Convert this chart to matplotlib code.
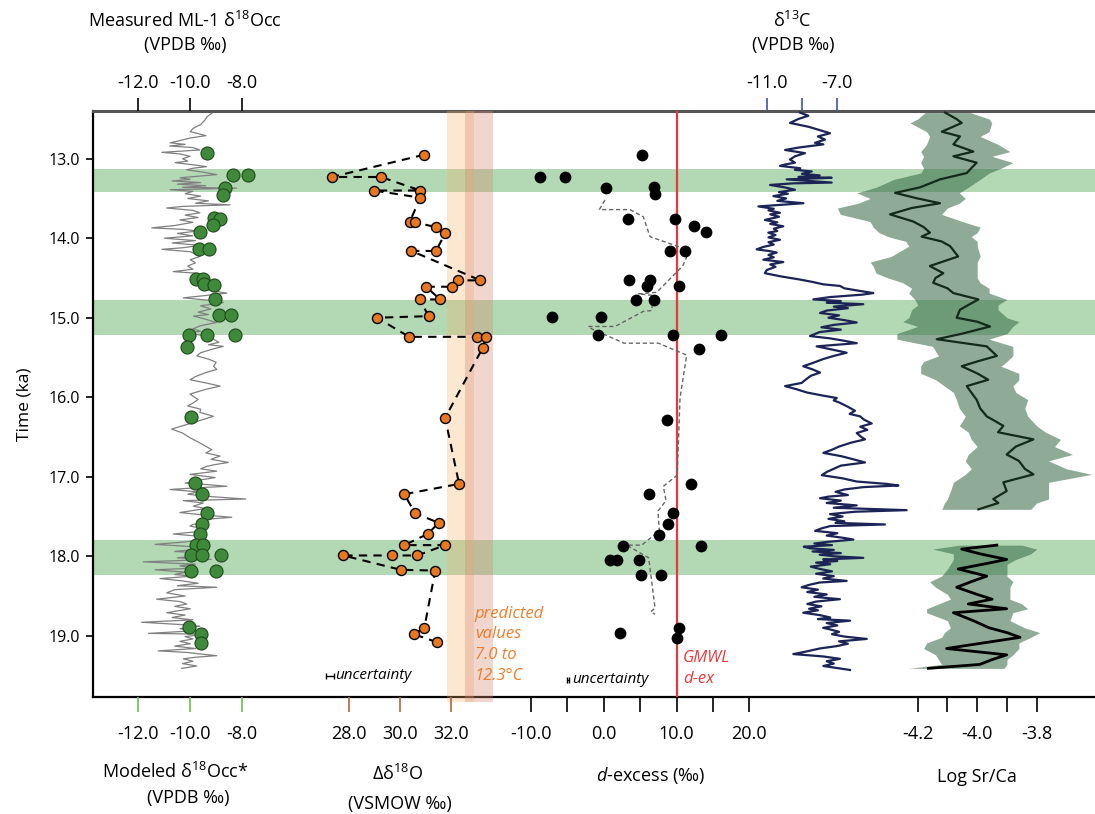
"""
Multi-proxy stack vs. time: measured/modeled d18O, Δδ18O, d-excess,
δ13C and Log Sr/Ca sharing one inverted time axis.
"""
import matplotlib
matplotlib.use("Agg")
import matplotlib.pyplot as plt

plt.rcParams["font.family"] = ["Open Sans", "DejaVu Sans"]
plt.rcParams["mathtext.fontset"] = "custom"
plt.rcParams["mathtext.rm"] = "Open Sans"
plt.rcParams["mathtext.it"] = "Open Sans:italic"
plt.rcParams["mathtext.bf"] = "Open Sans:bold"

# ---------------------------------------------------------------- data
# highlighted intervals (ka)
bands = [(13.13, 13.42), (14.78, 15.22), (17.80, 18.24)]

# measured ML-1 d18Occ (VPDB)
meas_age = [12.93, 13.20, 13.20, 13.37, 13.46, 13.75, 13.76, 13.84, 13.92,
            14.14, 14.14, 14.51, 14.51, 14.58, 14.59, 14.76, 14.97, 14.97,
            15.22, 15.22, 15.22, 15.37, 16.25, 17.08, 17.22, 17.46, 17.59,
            17.72, 17.86, 17.86, 17.99, 17.99, 17.99, 18.18, 18.18, 18.89,
            18.98, 19.09]
meas_d18o = [-9.37, -8.36, -7.78, -8.67, -8.75, -9.09, -8.85, -9.14, -9.63,
             -9.66, -9.27, -9.78, -9.50, -9.46, -9.08, -9.03, -8.88, -8.43,
             -10.06, -9.36, -8.27, -10.12, -9.97, -9.82, -9.56, -9.34, -9.55,
             -9.64, -9.78, -9.50, -9.98, -9.55, -8.83, -9.97, -9.01, -10.04,
             -9.60, -9.59]

# modeled d18Occ* (VPDB)
mod_age = [12.43, 12.47, 12.52, 12.57, 12.62, 12.66, 12.68, 12.71, 12.74,
           12.78, 12.80, 12.82, 12.84, 12.86, 12.89, 12.91, 12.92, 12.94,
           12.97, 13.00, 13.03, 13.05, 13.08, 13.10, 13.12, 13.14, 13.17,
           13.20, 13.22, 13.24, 13.26, 13.28, 13.30, 13.32, 13.34, 13.36,
           13.37, 13.39, 13.41, 13.44, 13.47, 13.50, 13.53, 13.56, 13.58,
           13.60, 13.62, 13.65, 13.68, 13.71, 13.74, 13.77, 13.80, 13.84,
           13.87, 13.89, 13.91, 13.94, 13.97, 14.00, 14.03, 14.06, 14.09,
           14.12, 14.14, 14.17, 14.20, 14.23, 14.27, 14.31, 14.35, 14.39,
           14.42, 14.44, 14.48, 14.52, 14.56, 14.60, 14.64, 14.67, 14.69,
           14.72, 14.75, 14.78, 14.81, 14.85, 14.89, 14.93, 14.96, 14.98,
           15.01, 15.04, 15.06, 15.10, 15.14, 15.17, 15.19, 15.23, 15.27,
           15.31, 15.34, 15.36, 15.40, 15.44, 15.48, 15.52, 15.56, 15.61,
           15.65, 15.69, 15.74, 15.78, 15.82, 15.86, 15.90, 15.96, 16.03,
           16.07, 16.11, 16.15, 16.19, 16.24, 16.32, 16.40, 16.45, 16.51,
           16.58, 16.66, 16.70, 16.74, 16.78, 16.82, 16.85, 16.87, 16.90,
           16.93, 16.97, 17.01, 17.04, 17.08, 17.10, 17.12, 17.14, 17.16,
           17.19, 17.22, 17.25, 17.28, 17.30, 17.33, 17.37, 17.40, 17.43,
           17.45, 17.48, 17.51, 17.54, 17.57, 17.60, 17.62, 17.66, 17.69,
           17.72, 17.75, 17.79, 17.82, 17.85, 17.88, 17.91, 17.94, 17.96,
           17.99, 18.02, 18.04, 18.07, 18.10, 18.12, 18.15, 18.17, 18.20,
           18.23, 18.25, 18.28, 18.31, 18.34, 18.37, 18.39, 18.42, 18.46,
           18.50, 18.54, 18.57, 18.60, 18.63, 18.66, 18.71, 18.74, 18.77,
           18.80, 18.83, 18.86, 18.88, 18.91, 18.94, 18.97, 18.98, 19.01,
           19.04, 19.07, 19.10, 19.13, 19.16, 19.19, 19.21, 19.23, 19.25,
           19.27, 19.29, 19.32, 19.35, 19.38, 19.41]
mod_d18o = [-9.17, -9.35, -9.45, -9.60, -9.90, -10.00, -9.75, -9.40, -10.01,
            -10.50, -10.78, -10.20, -10.80, -9.90, -9.63, -10.60, -11.10, -10.40,
            -10.01, -10.30, -10.10, -10.59, -9.80, -9.37, -9.90, -10.14, -9.50,
            -8.98, -9.70, -10.40, -10.01, -10.70, -9.60, -10.50, -9.40, -10.30,
            -8.21, -10.78, -9.90, -10.20, -9.60, -10.10, -9.30, -9.80, -8.47,
            -10.30, -10.91, -9.90, -9.63, -10.20, -9.70, -10.40, -9.90, -10.60,
            -11.49, -10.20, -9.75, -10.50, -9.90, -11.00, -9.80, -10.70, -9.60,
            -10.30, -11.10, -10.00, -9.80, -9.63, -10.00, -9.80, -10.10, -9.90,
            -10.66, -9.75, -9.90, -10.01, -9.60, -9.30, -9.50, -9.00, -8.59,
            -9.40, -10.27, -9.30, -8.73, -9.60, -9.20, -9.70, -9.30, -9.88,
            -9.50, -9.20, -8.98, -9.60, -9.90, -9.60, -10.14, -9.40, -9.10,
            -8.90, -9.30, -8.73, -9.20, -9.60, -9.75, -9.30, -9.00, -9.10,
            -8.98, -9.40, -9.80, -10.01, -9.40, -8.85, -9.40, -10.01, -9.70,
            -9.88, -10.10, -9.60, -9.63, -9.11, -9.90, -10.72, -10.30, -10.01,
            -9.60, -9.17, -9.40, -8.85, -9.20, -8.53, -9.10, -9.37, -9.60,
            -8.98, -10.01, -9.04, -9.60, -10.20, -9.30, -8.59, -9.80, -10.78,
            -9.70, -10.10, -9.20, -7.86, -10.27, -9.50, -9.88, -9.40, -10.00,
            -10.40, -9.50, -8.40, -9.60, -9.30, -9.90, -10.01, -9.40, -9.70,
            -10.66, -9.60, -9.50, -10.20, -11.36, -9.90, -9.75, -10.60, -9.40,
            -9.63, -10.50, -9.20, -11.81, -9.80, -10.40, -9.90, -11.36, -10.20,
            -10.60, -9.90, -11.17, -10.30, -9.70, -10.50, -8.98, -10.60, -10.91,
            -10.20, -11.30, -10.40, -10.14, -10.60, -10.00, -10.91, -10.20, -10.70,
            -9.90, -11.88, -10.30, -9.63, -10.40, -10.00, -11.62, -9.37, -10.20,
            -9.90, -10.40, -10.00, -10.60, -9.80, -11.24, -10.10, -9.60, -8.98,
            -9.80, -10.27, -9.90, -10.30, -9.75, -10.33]

# Δδ18O (VSMOW), in sample (connection) order
dd_age = [12.95, 13.23, 13.23, 13.40, 13.40, 13.49, 13.79, 13.80, 13.86,
          13.94, 14.16, 14.16, 14.53, 14.53, 14.61, 14.61, 14.77, 14.77,
          14.98, 15.00, 15.24, 15.24, 15.24, 15.38, 16.26, 17.09, 17.22,
          17.46, 17.58, 17.72, 17.86, 17.86, 17.99, 17.99, 17.99, 18.17,
          18.18, 18.90, 18.98, 19.08]
dd_val = [30.95, 27.31, 29.25, 30.80, 28.97, 30.80, 30.39, 30.59, 31.41,
          31.78, 31.42, 30.45, 33.17, 32.29, 32.06, 31.03, 31.58, 30.78,
          31.13, 29.09, 30.36, 33.05, 33.38, 33.26, 31.78, 32.33, 30.17,
          30.60, 31.53, 31.09, 30.17, 31.78, 30.68, 29.67, 27.76, 30.03,
          31.39, 30.96, 30.55, 31.45]
pred_low = (31.85, 32.93)    # 7.0 °C-ish envelope
pred_high = (32.56, 33.66)   # 12.3 °C-ish envelope

# d-excess (‰)
dex_age = [12.95, 13.23, 13.23, 13.37, 13.36, 13.45, 13.76, 13.76, 13.85,
           13.92, 14.16, 14.16, 14.53, 14.53, 14.60, 14.60, 14.78, 14.78,
           14.99, 14.99, 15.22, 15.22, 15.22, 15.39, 16.29, 17.09, 17.22,
           17.45, 17.59, 17.73, 17.87, 17.87, 18.05, 18.05, 18.05, 18.24,
           18.24, 18.90, 18.96, 19.03]
dex_val = [5.22, -8.75, -5.36, 0.27, 6.91, 7.09, 3.38, 9.84, 12.36,
           14.01, 9.11, 11.21, 3.48, 6.36, 5.91, 10.38, 4.40, 6.91,
           -7.10, -0.41, -0.82, 9.56, 16.11, 13.13, 8.74, 11.99, 6.22,
           9.47, 8.83, 7.60, 2.65, 13.37, 0.87, 1.79, 4.85, 5.08,
           7.87, 10.34, 2.28, 10.11]
dex_mean_age = [13.52, 13.64, 13.64, 13.73, 13.98, 14.12, 14.16, 14.35, 14.68,
                14.70, 14.72, 14.91, 14.92, 15.11, 15.11, 15.14, 15.32, 15.32,
                15.47, 16.01, 16.98, 17.12, 17.30, 17.43, 17.68, 17.86, 17.86,
                18.02, 18.65, 18.70, 18.73]
dex_mean = [0.18, -0.60, 3.60, 5.44, 6.36, 10.71, 11.76, 10.85, 7.28,
            4.75, 6.81, 6.59, 5.44, 1.55, -2.11, -1.65, 2.79, 7.50,
            11.40, 10.48, 10.10, 8.19, 8.56, 7.46, 7.64, 5.22, 3.16,
            6.18, 7.05, 6.46, 7.05]
gmwl_dex = 10.0

# δ13C (VPDB)
c13_age = [12.42, 12.46, 12.50, 12.55, 12.60, 12.64, 12.68, 12.72, 12.76,
           12.80, 12.82, 12.86, 12.89, 12.93, 12.97, 13.01, 13.05, 13.07,
           13.09, 13.12, 13.14, 13.16, 13.19, 13.21, 13.23, 13.24, 13.26,
           13.28, 13.30, 13.31, 13.33, 13.36, 13.39, 13.42, 13.44, 13.47,
           13.50, 13.53, 13.56, 13.58, 13.60, 13.63, 13.65, 13.68, 13.70,
           13.73, 13.77, 13.80, 13.82, 13.85, 13.88, 13.91, 13.93, 13.96,
           13.99, 14.02, 14.05, 14.08, 14.11, 14.14, 14.16, 14.18, 14.21,
           14.24, 14.27, 14.30, 14.33, 14.36, 14.40, 14.44, 14.48, 14.52,
           14.55, 14.58, 14.60, 14.63, 14.66, 14.69, 14.71, 14.74, 14.77,
           14.79, 14.81, 14.83, 14.86, 14.88, 14.91, 14.94, 14.97, 15.00,
           15.03, 15.06, 15.09, 15.12, 15.15, 15.18, 15.23, 15.26, 15.29,
           15.32, 15.34, 15.36, 15.40, 15.44, 15.48, 15.52, 15.57, 15.61,
           15.65, 15.69, 15.73, 15.78, 15.82, 15.86, 15.90, 15.94, 15.98,
           16.01, 16.04, 16.07, 16.12, 16.17, 16.21, 16.24, 16.28, 16.33,
           16.37, 16.41, 16.45, 16.49, 16.53, 16.57, 16.62, 16.66, 16.70,
           16.74, 16.78, 16.82, 16.86, 16.90, 16.94, 16.98, 17.02, 17.06,
           17.09, 17.11, 17.13, 17.16, 17.19, 17.23, 17.25, 17.27, 17.30,
           17.33, 17.36, 17.39, 17.42, 17.44, 17.47, 17.50, 17.53, 17.56,
           17.58, 17.60, 17.62, 17.65, 17.68, 17.71, 17.74, 17.77, 17.79,
           17.82, 17.84, 17.86, 17.88, 17.90, 17.92, 17.94, 17.96, 17.98,
           18.00, 18.02, 18.04, 18.06, 18.08, 18.10, 18.13, 18.16, 18.19,
           18.22, 18.25, 18.28, 18.31, 18.33, 18.36, 18.39, 18.42, 18.45,
           18.48, 18.51, 18.54, 18.57, 18.60, 18.63, 18.66, 18.68, 18.71,
           18.74, 18.77, 18.79, 18.81, 18.84, 18.87, 18.90, 18.92, 18.95,
           18.98, 19.01, 19.04, 19.07, 19.10, 19.13, 19.16, 19.20, 19.23,
           19.26, 19.29, 19.32, 19.35, 19.38, 19.41, 19.43]
c13_val = [-9.11, -8.64, -9.20, -9.68, -8.60, -8.00, -7.41, -8.10, -7.70,
           -8.26, -7.79, -9.20, -9.96, -8.83, -9.40, -9.68, -9.40, -9.90,
           -10.25, -9.10, -9.40, -8.45, -9.00, -8.00, -9.20, -7.32, -9.87,
           -8.60, -7.32, -9.50, -10.81, -10.00, -9.40, -10.30, -9.80, -10.62,
           -9.90, -10.40, -8.92, -10.20, -11.47, -10.60, -10.90, -10.25, -10.80,
           -10.30, -11.10, -10.40, -10.80, -10.06, -10.60, -10.40, -10.91, -10.50,
           -10.90, -10.25, -10.90, -10.60, -11.20, -11.57, -10.90, -10.43, -10.90,
           -10.60, -11.19, -10.06, -10.80, -10.50, -11.00, -11.10, -10.20, -9.11,
           -8.40, -7.80, -6.85, -6.60, -5.80, -4.96, -5.60, -7.40, -8.36,
           -6.80, -7.60, -5.53, -7.20, -6.40, -7.60, -7.98, -6.90, -7.50,
           -6.60, -5.90, -7.20, -7.90, -6.80, -8.00, -8.55, -7.40, -6.60,
           -5.90, -7.00, -8.17, -7.30, -6.47, -7.20, -7.80, -8.40, -8.93,
           -8.40, -7.98, -8.50, -8.80, -9.02, -9.96, -9.30, -8.73, -7.80,
           -7.03, -7.20, -6.85, -6.40, -6.00, -6.30, -5.71, -5.50, -5.05,
           -5.70, -5.30, -5.90, -5.70, -5.43, -6.20, -6.90, -7.30, -7.79,
           -6.80, -6.10, -5.43, -6.80, -7.20, -7.60, -7.88, -6.70, -5.90,
           -4.20, -3.54, -5.50, -6.60, -7.10, -6.40, -7.50, -7.98, -6.80,
           -7.60, -5.90, -7.20, -3.07, -6.00, -7.41, -6.70, -7.50, -6.60,
           -7.10, -4.30, -7.40, -7.90, -8.26, -7.00, -7.60, -6.60, -6.09,
           -7.60, -8.30, -7.30, -8.90, -8.55, -7.20, -8.40, -6.80, -8.00,
           -7.20, -5.53, -7.80, -7.00, -8.20, -7.40, -8.50, -7.98, -7.30,
           -8.20, -7.20, -7.80, -6.47, -8.00, -8.60, -9.02, -8.10, -8.70,
           -7.60, -8.30, -6.85, -8.20, -8.70, -7.90, -8.60, -8.10, -8.93,
           -8.00, -7.40, -8.10, -6.28, -7.60, -7.00, -7.80, -7.41, -6.90,
           -7.30, -6.60, -5.33, -6.90, -6.40, -7.03, -8.00, -8.80, -9.49,
           -7.80, -6.85, -7.60, -7.20, -7.79, -6.90, -6.28]

# Log Sr/Ca: two segments, centre line with envelope
sr_age_a = [12.42, 12.50, 12.55, 12.66, 12.72, 12.82, 12.91, 12.97, 13.05,
            13.12, 13.18, 13.26, 13.36, 13.43, 13.50, 13.56, 13.62, 13.70,
            13.79, 13.86, 13.93, 13.98, 14.04, 14.10, 14.23, 14.30, 14.35,
            14.44, 14.50, 14.56, 14.63, 14.69, 14.77, 14.84, 14.90, 15.00,
            15.05, 15.11, 15.20, 15.27, 15.36, 15.48, 15.55, 15.61, 15.70,
            15.78, 15.86, 15.94, 16.03, 16.14, 16.24, 16.36, 16.44, 16.53,
            16.62, 16.72, 16.80, 16.90, 16.97, 17.07, 17.18, 17.28, 17.33,
            17.41]
sr_mid_a = [-4.108, -4.070, -4.052, -4.119, -4.058, -4.080, -4.013, -4.080, -4.002,
            -4.020, -4.035, -4.125, -4.192, -4.276, -4.200, -4.125, -4.220, -4.293,
            -4.215, -4.180, -4.159, -4.187, -4.120, -4.091, -4.064, -4.120, -4.159,
            -4.114, -4.140, -4.148, -4.100, -4.080, -3.996, -4.030, -4.058, -4.069,
            -4.000, -3.957, -4.050, -4.136, -3.968, -3.934, -4.000, -4.052, -4.000,
            -3.963, -4.035, -4.020, -4.002, -3.990, -3.968, -3.912, -3.930, -3.811,
            -3.870, -3.901, -3.860, -3.840, -3.811, -3.912, -3.901, -3.946, -3.929,
            -3.996]
sr_lo_a = [-4.175, -4.200, -4.226, -4.170, -4.160, -4.170, -4.190, -4.180, -4.190,
           -4.180, -4.190, -4.280, -4.340, -4.405, -4.360, -4.400, -4.470, -4.460,
           -4.360, -4.350, -4.330, -4.300, -4.240, -4.230, -4.290, -4.360, -4.350,
           -4.340, -4.300, -4.250, -4.220, -4.230, -4.210, -4.200, -4.220, -4.230,
           -4.250, -4.200, -4.270, -4.270, -4.150, -4.130, -4.180, -4.190, -4.190,
           -4.140, -4.110, -4.080, -4.070, -4.060, -4.040, -4.060, -4.030, -4.020,
           -4.000, -4.030, -4.040, -4.020, -4.040, -4.080, -4.090, -4.100, -4.110,
           -4.119]
sr_hi_a = [-4.024, -3.960, -3.951, -3.960, -3.990, -3.930, -3.890, -3.950, -3.880,
           -3.920, -3.960, -3.990, -4.030, -4.060, -4.040, -4.060, -4.100, -4.120,
           -4.050, -3.990, -4.000, -4.020, -4.000, -4.000, -3.990, -4.000, -4.000,
           -4.000, -4.000, -3.990, -3.960, -3.960, -3.900, -3.930, -3.930, -3.900,
           -3.860, -3.880, -3.900, -3.960, -3.880, -3.880, -3.900, -3.920, -3.860,
           -3.860, -3.880, -3.870, -3.830, -3.840, -3.830, -3.800, -3.770, -3.720,
           -3.740, -3.680, -3.760, -3.700, -3.615, -3.760, -3.760, -3.760, -3.800,
           -3.820]
sr_age_b = [17.86, 17.91, 17.97, 18.04, 18.10, 18.16, 18.25, 18.32, 18.39,
            18.48, 18.54, 18.60, 18.66, 18.71, 18.81, 18.90, 18.96, 19.02,
            19.09, 19.16, 19.24, 19.30, 19.36, 19.41]
sr_mid_b = [-3.934, -4.052, -3.990, -3.901, -3.980, -4.064, -3.968, -4.020, -4.069,
            -4.000, -3.950, -4.030, -3.901, -4.080, -4.013, -3.960, -3.900, -3.856,
            -3.980, -4.103, -3.901, -3.950, -3.991, -4.164]
sr_lo_b = [-4.060, -4.150, -4.080, -4.080, -4.090, -4.100, -4.120, -4.160, -4.140,
           -4.100, -4.090, -4.130, -4.170, -4.170, -4.100, -4.090, -4.110, -4.120,
           -4.170, -4.180, -4.140, -4.130, -4.120, -4.230]
sr_hi_b = [-3.850, -3.800, -3.820, -3.870, -3.900, -3.900, -3.900, -3.880, -3.890,
           -3.890, -3.890, -3.850, -3.830, -3.880, -3.890, -3.840, -3.790, -3.820,
           -3.860, -3.860, -3.880, -3.900, -3.900, -3.910]

# ---------------------------------------------------------------- layout
FIG_W, FIG_H = 1095, 814
L_PX, R_PX, T_PX, B_PX = 93, 1095, 111, 697
AX_POS = [L_PX / FIG_W, 1 - B_PX / FIG_H,
          (R_PX - L_PX) / FIG_W, (B_PX - T_PX) / FIG_H]


def overlay(fig, ax, v0, p0, k):
    """Transparent axes sharing time; value v0 sits at pixel p0, k px/unit."""
    a = fig.add_axes(AX_POS, sharey=ax)
    a.patch.set_visible(False)
    for s in a.spines.values():
        s.set_visible(False)
    a.set_xlim(v0 - (p0 - L_PX) / k, v0 + (R_PX - p0) / k)
    a.tick_params(axis="y", left=False, labelleft=False,
                  right=False, labelright=False)
    return a


def bottom_ticks(a, ticks, labels, color):
    a.xaxis.set_ticks_position("bottom")
    a.set_xticks(ticks)
    a.set_xticklabels(labels)
    a.tick_params(axis="x", direction="out", length=10.5, width=1.2,
                  color=color, pad=10, labelsize=13)


def top_ticks(a, ticks, labels, color):
    a.xaxis.set_ticks_position("top")
    a.xaxis.set_label_position("top")
    a.set_xticks(ticks)
    a.set_xticklabels(labels)
    a.tick_params(axis="x", direction="out", length=9.5, width=1.2,
                  color=color, pad=4, labelsize=13)


def fig_text(fig, x, y, s, **kw):
    fig.text(x / FIG_W, 1 - y / FIG_H, s, ha="center", va="center", **kw)


def main():
    fig = plt.figure(figsize=(FIG_W / 100, FIG_H / 100), dpi=100)

    # base axes: time axis + highlighted bands
    ax = fig.add_axes(AX_POS)
    ax.set_ylim(19.77, 12.40)
    ax.set_xlim(0, 1)
    ax.set_xticks([])
    ax.set_yticks([13, 14, 15, 16, 17, 18, 19])
    ax.set_yticklabels([f"{t:.1f}" for t in range(13, 20)])
    ax.tick_params(axis="y", direction="out", length=5, width=1.2,
                   labelsize=11.5, pad=4)
    ax.set_ylabel("Time (ka)", fontsize=12.5, labelpad=12)
    ax.spines["right"].set_visible(False)
    ax.spines["left"].set_linewidth(1.6)
    ax.spines["bottom"].set_linewidth(1.6)
    ax.spines["top"].set_color("#555555")
    ax.spines["top"].set_linewidth(2.2)
    for t0, t1 in bands:
        ax.axhspan(t0, t1, color="#b2d8b4", lw=0, zorder=0)

    # Sr/Ca
    ax_sr = overlay(fig, ax, -4.2, 917.7, 297.5)
    ax_sr.fill_betweenx(sr_age_a, sr_lo_a, sr_hi_a, color="#3a6c4a",
                        alpha=0.57, lw=0)
    ax_sr.plot(sr_mid_a, sr_age_a, color="#13291a", lw=1.6)
    ax_sr.fill_betweenx(sr_age_b, sr_lo_b, sr_hi_b, color="#3a6c4a",
                        alpha=0.57, lw=0)
    ax_sr.plot(sr_mid_b, sr_age_b, color="black", lw=2.0)
    bottom_ticks(ax_sr, [-4.2, -4.1, -4.0, -3.9, -3.8],
                 ["-4.2", "", "-4.0", "", "-3.8"], "black")

    # δ13C
    ax_c = overlay(fig, ax, -11.0, 766.7, 17.65)
    ax_c.plot(c13_val, c13_age, color="#1c2456", lw=1.6)
    top_ticks(ax_c, [-11, -9, -7], ["-11.0", "", "-7.0"], "#3b57a6")

    # d-excess
    ax_dx = overlay(fig, ax, 0.0, 603.7, 7.28)
    ax_dx.axvline(gmwl_dex, color="#e8383d", lw=1.6, zorder=1)
    ax_dx.plot(dex_mean, dex_mean_age, color="#666666", lw=1.0,
               ls=(0, (3, 2)), zorder=2)
    ax_dx.scatter(dex_val, dex_age, s=72, color="black", lw=0, zorder=3)
    ax_dx.errorbar(-4.95, 19.55, xerr=0.15, fmt="none", ecolor="black",
                   elinewidth=1, capsize=2)
    ax_dx.text(-4.4, 19.55, "uncertainty", style="italic", fontsize=11,
               ha="left", va="center")
    ax_dx.text(10.9, 19.18, "GMWL\nd-ex", style="italic", fontsize=12,
               color="#e8383d", ha="left", va="top", linespacing=1.4)
    bottom_ticks(ax_dx, [-10, -5, 0, 5, 10, 15, 20],
                 ["-10.0", "", "0.0", "", "10.0", "", "20.0"], "black")

    # Δδ18O
    ax_dd = overlay(fig, ax, 28.0, 349.3, 25.35)
    ax_dd.axvspan(*pred_low, ymin=-0.009, ymax=1, color="#f7b267",
                  alpha=0.3, lw=0, clip_on=False)
    ax_dd.axvspan(*pred_high, ymin=-0.009, ymax=1, color="#d98a70",
                  alpha=0.35, lw=0, clip_on=False)
    ax_dd.plot(dd_val, dd_age, color="black", lw=1.5, ls=(0, (4, 3)))
    ax_dd.scatter(dd_val, dd_age, s=52, color="#e87722",
                  edgecolor="black", lw=1.0, zorder=3)
    ax_dd.errorbar(27.24, 19.50, xerr=0.16, fmt="none", ecolor="black",
                   elinewidth=1, capsize=2.5)
    ax_dd.text(27.45, 19.50, "uncertainty", style="italic", fontsize=11,
               ha="left", va="center")
    ax_dd.text(32.95, 18.62, "predicted\nvalues\n7.0 to\n12.3°C",
               style="italic", fontsize=12, color="#ee7d2c",
               ha="left", va="top", linespacing=1.4)
    bottom_ticks(ax_dd, [28, 30, 32], ["28.0", "30.0", "32.0"], "#b5653a")

    # modeled d18Occ*
    ax_mod = overlay(fig, ax, -12.0, 138.5, 25.9)
    ax_mod.plot(mod_d18o, mod_age, color="#808080", lw=0.9)
    bottom_ticks(ax_mod, [-12, -10, -8], ["-12.0", "-10.0", "-8.0"],
                 "#6abf4b")

    # measured d18Occ
    ax_meas = overlay(fig, ax, -12.0, 138.5, 25.9)
    ax_meas.scatter(meas_d18o, meas_age, s=88, color="#3f8a3a",
                    edgecolor="#1f4a1c", lw=0.8, zorder=3)
    top_ticks(ax_meas, [-12, -10, -8], ["-12.0", "-10.0", "-8.0"], "black")

    # axis titles
    fs = 13
    fig_text(fig, 185, 21, r"Measured ML-1 δ$^{\mathrm{18}}$Occ", fontsize=fs)
    fig_text(fig, 185, 45, "(VPDB ‰)", fontsize=fs)
    fig_text(fig, 792, 21, r"δ$^{\mathrm{13}}$C", fontsize=fs)
    fig_text(fig, 793, 45, "(VPDB ‰)", fontsize=fs)
    fig_text(fig, 175, 772, r"Modeled δ$^{\mathrm{18}}$Occ*", fontsize=fs)
    fig_text(fig, 188, 798, "(VPDB ‰)", fontsize=fs)
    fig_text(fig, 398, 774, r"Δδ$^{\mathrm{18}}$O", fontsize=fs)
    fig_text(fig, 400, 804, "(VSMOW ‰)", fontsize=fs)
    fig_text(fig, 651, 775, r"$\mathit{d}$-excess (‰)", fontsize=fs)
    fig_text(fig, 977, 777, "Log Sr/Ca", fontsize=fs)

    fig.savefig("out.png", dpi=100)
    plt.close(fig)


if __name__ == "__main__":
    main()
